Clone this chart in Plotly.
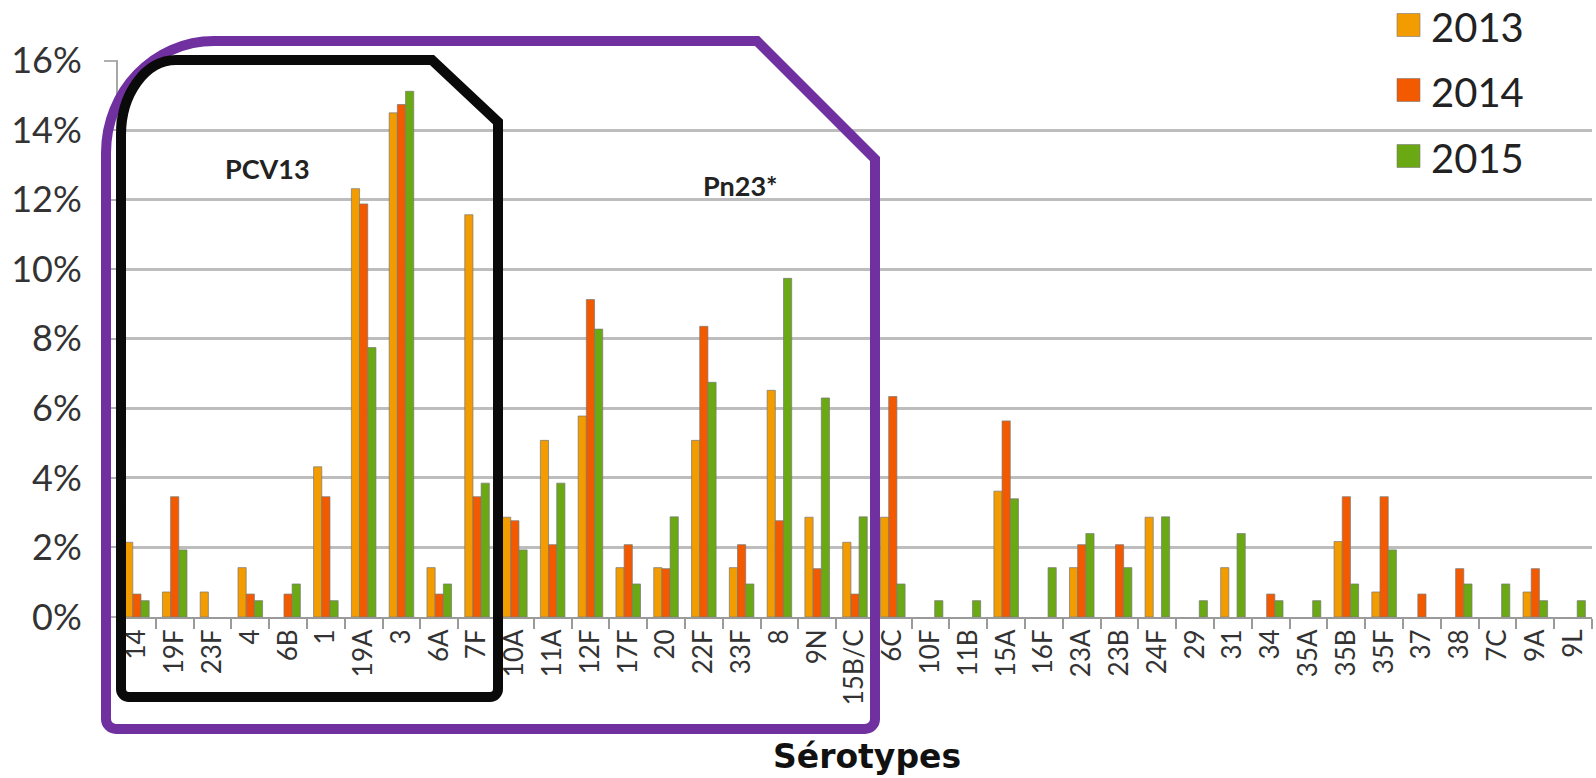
import plotly.graph_objects as go

# Serotype distribution by year (% of isolates)
serotypes = ["14", "19F", "23F", "4", "6B", "1", "19A", "3", "6A", "7F",
             "10A", "11A", "12F", "17F", "20", "22F", "33F", "8", "9N", "15B/C",
             "6C", "10F", "11B", "15A", "16F", "23A", "23B", "24F", "29", "31",
             "34", "35A", "35B", "35F", "37", "38", "7C", "9A", "9L"]

pct_2013 = [2.15, 0.72, 0.72, 1.42, 0, 4.32, 12.32, 14.50, 1.42, 11.57,
            2.87, 5.08, 5.78, 1.42, 1.42, 5.08, 1.42, 6.52, 2.87, 2.15,
            2.87, 0, 0, 3.62, 0, 1.42, 0, 2.87, 0, 1.42,
            0, 0, 2.17, 0.72, 0, 0, 0, 0.72, 0]

pct_2014 = [0.66, 3.46, 0, 0.66, 0.66, 3.46, 11.88, 14.74, 0.66, 3.46,
            2.77, 2.08, 9.13, 2.08, 1.39, 8.36, 2.08, 2.77, 1.39, 0.66,
            6.34, 0, 0, 5.64, 0, 2.08, 2.08, 0, 0, 0,
            0.66, 0, 3.46, 3.46, 0.66, 1.39, 0, 1.39, 0]

pct_2015 = [0.47, 1.93, 0, 0.47, 0.95, 0.47, 7.75, 15.12, 0.95, 3.85,
            1.93, 3.85, 8.28, 0.95, 2.88, 6.75, 0.95, 9.74, 6.30, 2.88,
            0.95, 0.47, 0.47, 3.40, 1.42, 2.40, 1.42, 2.88, 0.47, 2.40,
            0.47, 0.47, 0.95, 1.93, 0, 0.95, 0.95, 0.47, 0.47]

years = ["2013", "2014", "2015"]
series = [pct_2013, pct_2014, pct_2015]
colors = ["#F39C00", "#F35A00", "#6BA914"]

y_ticks = [0, 2, 4, 6, 8, 10, 12, 14, 16]

W, H = 1596, 778
L, R, T, B = 118, 4, 60, 161
PW, PH = W - L - R, H - T - B


def px(x):
    return (x - L) / PW


def py(y):
    return (H - B - y) / PH


def rounded_path(left, top, right, bottom, cut_x, cut_y, rx, ry, rb):
    """Outline with a rounded top-left corner, a bevelled top-right corner
    and slightly rounded bottom corners (pixel coords -> paper coords)."""
    k = 0.5523
    pts = []
    pts.append(f"M{px(left + rx)},{py(top)}")
    pts.append(f"L{px(cut_x)},{py(top)}")
    pts.append(f"L{px(right)},{py(cut_y)}")
    pts.append(f"L{px(right)},{py(bottom - rb)}")
    pts.append(f"C{px(right)},{py(bottom - rb + k * rb)} {px(right - rb + k * rb)},{py(bottom)} {px(right - rb)},{py(bottom)}")
    pts.append(f"L{px(left + rb)},{py(bottom)}")
    pts.append(f"C{px(left + rb - k * rb)},{py(bottom)} {px(left)},{py(bottom - rb + k * rb)} {px(left)},{py(bottom - rb)}")
    pts.append(f"L{px(left)},{py(top + ry)}")
    pts.append(f"C{px(left)},{py(top + ry - k * ry)} {px(left + rx - k * rx)},{py(top)} {px(left + rx)},{py(top)}")
    pts.append("Z")
    return " ".join(pts)


fig = go.Figure()
for name, vals, col in zip(years, series, colors):
    fig.add_trace(go.Bar(
        x=serotypes, y=[v if v > 0 else None for v in vals], name=name,
        marker=dict(color=col, line=dict(color="rgba(120,120,120,0.7)", width=1)),
        showlegend=False,
    ))

shapes = [
    # Pn23 group outline
    dict(type="path", xref="paper", yref="paper",
         path=rounded_path(106, 41, 875, 729, 757, 159, 108, 112, 10),
         line=dict(color="#7030A0", width=10), layer="above"),
    # PCV13 group outline
    dict(type="path", xref="paper", yref="paper",
         path=rounded_path(121, 60, 498, 697, 432, 122, 55, 75, 8),
         line=dict(color="#0A0A0A", width=10), layer="above"),
]

annotations = [
    dict(text="<b>PCV13</b>", x=px(267), y=py(168), xref="paper", yref="paper",
         xanchor="center", yanchor="middle",
         showarrow=False, font=dict(family="Lato", size=27, color="#222")),
    dict(text="<b>Pn23*</b>", x=px(740), y=py(185), xref="paper", yref="paper",
         xanchor="center", yanchor="middle",
         showarrow=False, font=dict(family="Lato", size=27, color="#222")),
    dict(text="<b>Sérotypes</b>", x=px(867), y=py(756), xref="paper", yref="paper",
         xanchor="center", yanchor="middle",
         showarrow=False, font=dict(family="DejaVu Sans", size=33, color="#111")),
]

# legend drawn as swatches + labels
legend_rows = [25, 90, 156]
for name, col, yc in zip(years, colors, legend_rows):
    shapes.append(dict(type="rect", xref="paper", yref="paper",
                       x0=px(1397), x1=px(1420), y0=py(yc + 11.5), y1=py(yc - 11.5),
                       fillcolor=col, line=dict(color="rgba(120,120,120,0.6)", width=1),
                       layer="above"))
    annotations.append(dict(text=name, x=px(1429), y=py(yc + 2), xref="paper", yref="paper",
                            xanchor="left", yanchor="middle", showarrow=False,
                            font=dict(family="Lato", size=40, color="#222")))

fig.update_layout(
    width=W, height=H,
    margin=dict(l=L, r=R, t=T, b=B),
    paper_bgcolor="white", plot_bgcolor="white",
    barmode="group", bargap=0.35, bargroupgap=0,
    shapes=shapes, annotations=annotations,
    xaxis=dict(
        type="category", tickangle=-90, tickson="boundaries",
        ticks="outside", ticklen=10, tickwidth=2, tickcolor="#9a9a9a",
        showline=True, linecolor="#9a9a9a", linewidth=2,
        showgrid=False,
        tickfont=dict(family="Lato", size=26, color="#333"),
    ),
    yaxis=dict(
        range=[0, 16.02], tickvals=y_ticks, ticktext=[f"{v}%" for v in y_ticks],
        ticks="outside", ticklen=12, tickwidth=2, tickcolor="#b0b0b0",
        showline=True, linecolor="#a8a8a8", linewidth=2,
        showgrid=True, gridcolor="#bdbdbd", gridwidth=3,
        zeroline=False, ticklabelstandoff=15,
        tickfont=dict(family="Lato", size=36, color="#333"),
    ),
)

fig.write_html("out.html")
